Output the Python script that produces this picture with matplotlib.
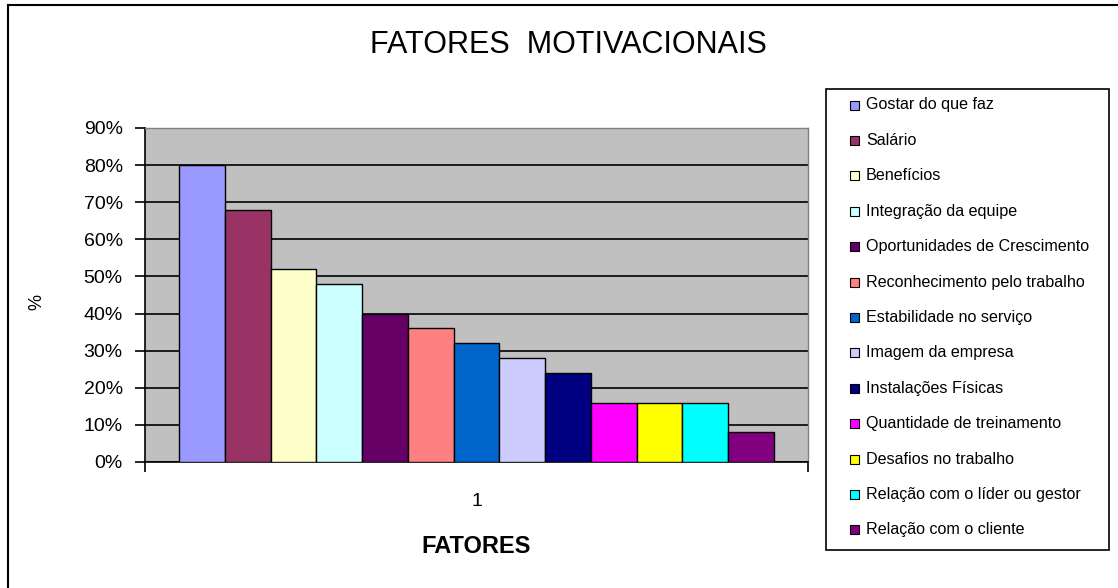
import matplotlib
matplotlib.use('Agg')
import matplotlib.pyplot as plt
from matplotlib.patches import Rectangle
from matplotlib.lines import Line2D

# Fatores motivacionais (%)
fatores = [
    'Gostar do que faz', 'Salário', 'Benefícios', 'Integração da equipe',
    'Oportunidades de Crescimento', 'Reconhecimento pelo trabalho',
    'Estabilidade no serviço', 'Imagem da empresa', 'Instalações Físicas',
    'Quantidade de treinamento', 'Desafios no trabalho',
    'Relação com o líder ou gestor', 'Relação com o cliente',
]
valores = [0.80, 0.68, 0.52, 0.48, 0.40, 0.36, 0.32, 0.28, 0.24, 0.16, 0.16, 0.16, 0.08]
cores = ['#9999FF', '#993366', '#FFFFCC', '#CCFFFF', '#660066', '#FF8080',
         '#0066CC', '#CCCCFF', '#000080', '#FF00FF', '#FFFF00', '#00FFFF', '#800080']
yticks = [0.0, 0.1, 0.2, 0.3, 0.4, 0.5, 0.6, 0.7, 0.8, 0.9]
ytick_labels = ['0%', '10%', '20%', '30%', '40%', '50%', '60%', '70%', '80%', '90%']

plt.rcParams['font.family'] = ['Liberation Sans', 'DejaVu Sans']

W, H = 1118, 588
fig = plt.figure(figsize=(W / 100, H / 100), dpi=100)
fig.patch.set_facecolor('white')

def fx(px):
    return px / W

def fy(py):
    return 1 - py / H

# outer chart border (top / left visible)
fig.add_artist(Line2D([fx(8), fx(8)], [fy(5), 0], color='black', lw=1.5, transform=fig.transFigure))
fig.add_artist(Line2D([fx(8), 1], [fy(5), fy(5)], color='black', lw=1.5, transform=fig.transFigure))

# plot area
left, right, top, bottom = 145, 808, 128, 462
ax = fig.add_axes([fx(left), fy(bottom), fx(right - left), (bottom - top) / H])
ax.set_facecolor('#C0C0C0')

n = len(valores)
cluster = 0.897
w = cluster / n
for i, (v, c) in enumerate(zip(valores, cores)):
    x = 1 - cluster / 2 + w * (i + 0.5)
    ax.bar(x, v, width=w, color=c, edgecolor='black', linewidth=1.0, zorder=3)

ax.set_xlim(0.5, 1.5)
ax.set_ylim(0, 0.9)
ax.set_yticks(yticks)
ax.set_yticklabels(ytick_labels, fontsize=14)
ax.yaxis.grid(True, color='black', linewidth=1.2, zorder=1)
ax.set_axisbelow(True)
ax.tick_params(axis='y', direction='out', length=7, width=1.2, pad=9, colors='black')

ax.set_xticks([1])
ax.set_xticklabels(['1'], fontsize=14)
ax.set_xticks([0.5, 1.5], minor=True)
ax.tick_params(axis='x', which='major', length=0, pad=22)
ax.tick_params(axis='x', which='minor', direction='out', length=7, width=1.2)

for s in ['top', 'right']:
    ax.spines[s].set_color('#808080')
    ax.spines[s].set_linewidth(1.0)
for s in ['left', 'bottom']:
    ax.spines[s].set_color('black')
    ax.spines[s].set_linewidth(1.2)

ax.set_ylabel('%', fontsize=13)
ax.yaxis.set_label_coords(-(left - 45) / (right - left), 0.48)
ax.set_xlabel('FATORES', fontsize=17, fontweight='bold', labelpad=18)

fig.text(fx(568), fy(45), 'FATORES  MOTIVACIONAIS', fontsize=22,
         ha='center', va='center')

# legend box
lx0, ly0, lx1, ly1 = 826, 89, 1109, 550
fig.add_artist(Rectangle((fx(lx0), fy(ly1)), fx(lx1 - lx0), (ly1 - ly0) / H,
                         transform=fig.transFigure, facecolor='white',
                         edgecolor='black', lw=1.2))
row0, pitch = 105, 35.4
for i, (lab, c) in enumerate(zip(fatores, cores)):
    yc = row0 + i * pitch
    fig.add_artist(Rectangle((fx(850), fy(yc + 4.5)), fx(9), 9 / H,
                             transform=fig.transFigure, facecolor=c,
                             edgecolor='black', lw=0.8))
    fig.text(fx(866), fy(yc), lab, fontsize=11.6, ha='left', va='center')

fig.savefig('out.png', dpi=100, facecolor=fig.get_facecolor())
